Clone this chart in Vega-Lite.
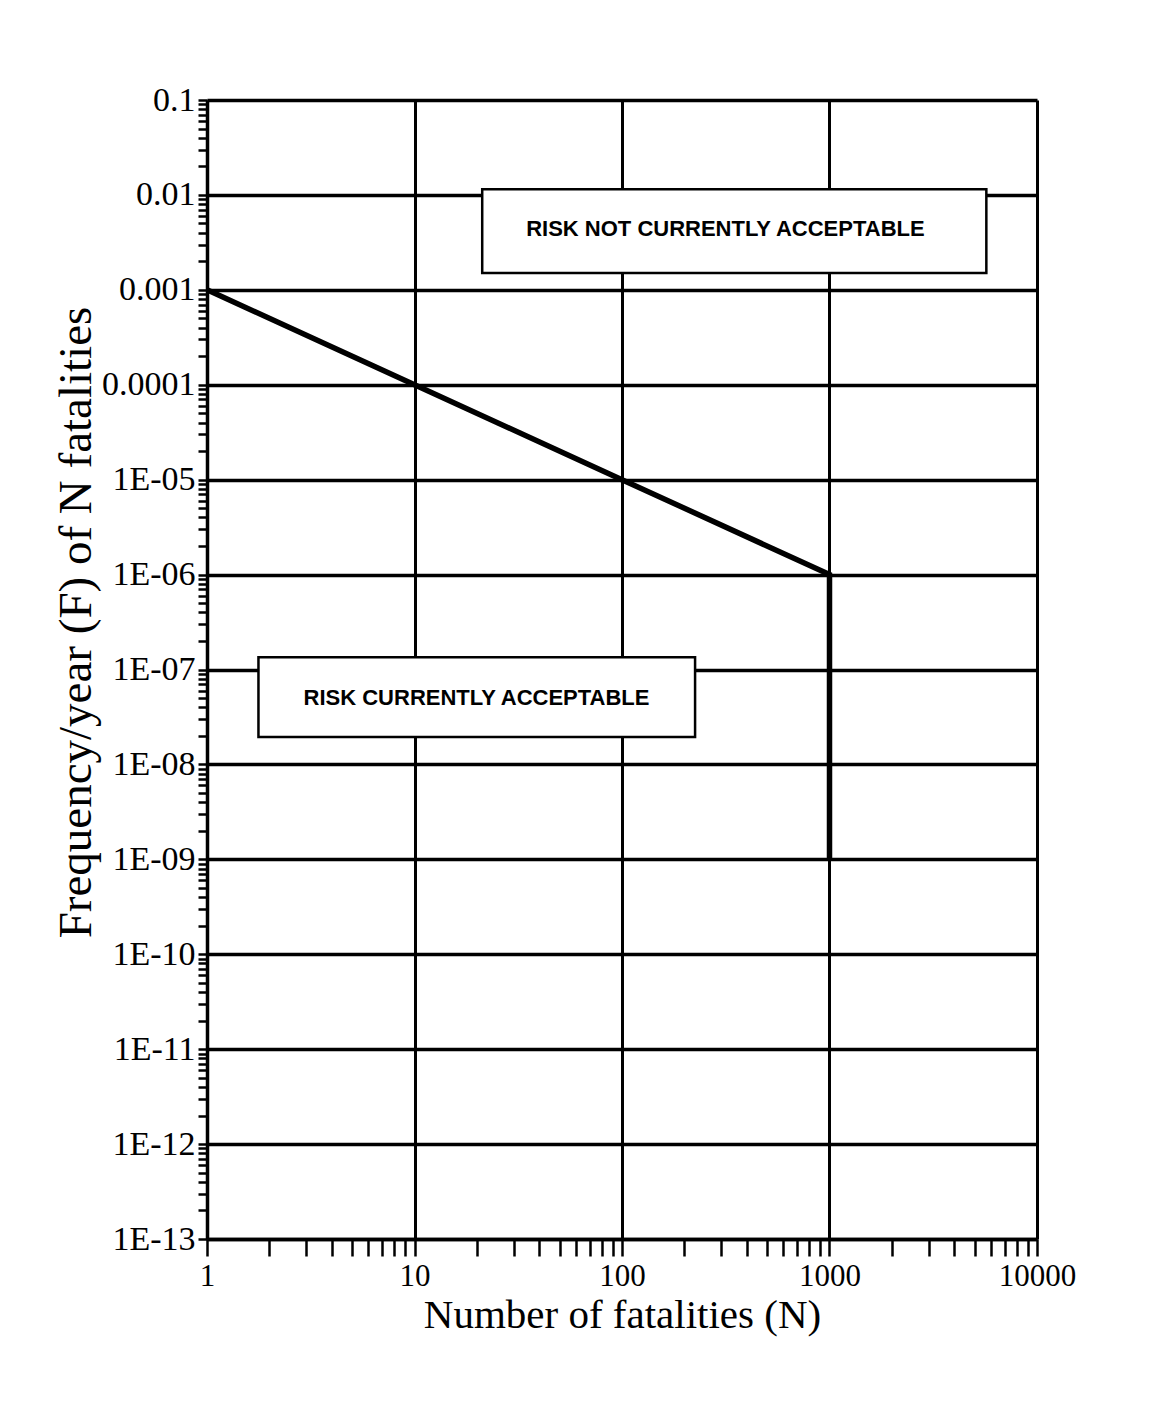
{
  "$schema": "https://vega.github.io/schema/vega-lite/v6.json",
  "width": 830,
  "height": 1139,
  "autosize": {"type": "none"},
  "padding": {"left": 207, "top": 100, "right": 113, "bottom": 170},
  "background": "white",
  "config": {
    "view": {"stroke": null},
    "axis": {
      "domainColor": "black",
      "domainWidth": 3.5,
      "tickColor": "black",
      "gridColor": "black",
      "labelColor": "black",
      "titleColor": "black",
      "labelFont": "Liberation Serif",
      "titleFont": "Liberation Serif",
      "titleFontWeight": "normal"
    }
  },
  "datasets": {
    "curve": [
      {"N": 1, "F": 0.001, "i": 0},
      {"N": 10, "F": 0.0001, "i": 1},
      {"N": 100, "F": 0.00001, "i": 2},
      {"N": 1000, "F": 0.000001, "i": 3},
      {"N": 1000, "F": 1e-9, "i": 4}
    ],
    "boxes": [
      {"x1": 21.2, "x2": 5700, "y1": 0.0015, "y2": 0.0115, "xc": 315, "yc": 0.00438, "label": "RISK NOT CURRENTLY ACCEPTABLE"},
      {"x1": 1.77, "x2": 225, "y1": 1.94e-8, "y2": 1.35e-7, "xc": 19.9, "yc": 5.0e-8, "label": "RISK CURRENTLY ACCEPTABLE"}
    ]
  },
  "layer": [
    {
      "data": {"name": "curve"},
      "mark": {"type": "line", "color": "black", "strokeWidth": 5.5, "strokeCap": "butt"},
      "encoding": {
        "x": {
          "field": "N", "type": "quantitative",
          "scale": {"type": "log", "domain": [1, 10000], "nice": false},
          "axis": {
            "title": "Number of fatalities (N)",
            "titleFontSize": 41,
            "titleX": 415,
            "titleY": 76,
            "titleBaseline": "middle",
            "labelFontSize": 31,
            "labelPadding": 5,
            "labelFlush": false,
            "labelOverlap": false,
            "tickSize": 17,
            "tickWidth": 2.5,
            "gridWidth": 3,
            "gridOpacity": {"condition": {"test": "abs(log(datum.value)/LN10 - round(log(datum.value)/LN10)) < 1e-6", "value": 1}, "value": 0},
            "values": [1,2,3,4,5,6,7,8,9,10,20,30,40,50,60,70,80,90,100,200,300,400,500,600,700,800,900,1000,2000,3000,4000,5000,6000,7000,8000,9000,10000],
            "labelExpr": "abs(log(datum.value)/LN10 - round(log(datum.value)/LN10)) < 1e-6 ? format(datum.value, 'd') : ''"
          }
        },
        "y": {
          "field": "F", "type": "quantitative",
          "scale": {"type": "log", "domain": [1e-13, 0.1], "nice": false},
          "axis": {
            "title": "Frequency/year (F) of N fatalities",
            "titleFontSize": 47,
            "titleX": -131,
            "titleY": 522,
            "titleAngle": 270,
            "titleAlign": "center",
            "titleBaseline": "middle",
            "labelFontSize": 34,
            "labelPadding": 3,
            "labelFlush": false,
            "labelOverlap": false,
            "tickSize": 9,
            "tickWidth": 2.5,
            "gridWidth": 3.5,
            "gridOpacity": {"condition": {"test": "abs(log(datum.value)/LN10 - round(log(datum.value)/LN10)) < 1e-6", "value": 1}, "value": 0},
            "values": [1e-13,2e-13,3e-13,4e-13,5e-13,6e-13,7e-13,8e-13,9e-13,1e-12,2e-12,3e-12,4e-12,5e-12,6e-12,7e-12,8e-12,9e-12,1e-11,2e-11,3e-11,4e-11,5e-11,6e-11,7e-11,8e-11,9e-11,1e-10,2e-10,3e-10,4e-10,5e-10,6e-10,7e-10,8e-10,9e-10,1e-9,2e-9,3e-9,4e-9,5e-9,6e-9,7e-9,8e-9,9e-9,1e-8,2e-8,3e-8,4e-8,5e-8,6e-8,7e-8,8e-8,9e-8,1e-7,2e-7,3e-7,4e-7,5e-7,6e-7,7e-7,8e-7,9e-7,1e-6,2e-6,3e-6,4e-6,5e-6,6e-6,7e-6,8e-6,9e-6,1e-5,2e-5,3e-5,4e-5,5e-5,6e-5,7e-5,8e-5,9e-5,1e-4,2e-4,3e-4,4e-4,5e-4,6e-4,7e-4,8e-4,9e-4,1e-3,2e-3,3e-3,4e-3,5e-3,6e-3,7e-3,8e-3,9e-3,1e-2,2e-2,3e-2,4e-2,5e-2,6e-2,7e-2,8e-2,9e-2,1e-1],
            "labelExpr": "abs(log(datum.value)/LN10 - round(log(datum.value)/LN10)) < 1e-6 ? (round(log(datum.value)/LN10) >= -4 ? format(datum.value, '.' + (-round(log(datum.value)/LN10)) + 'f') : '1E-' + (round(log(datum.value)/LN10) > -10 ? '0' : '') + (-round(log(datum.value)/LN10))) : ''"
          }
        },
        "order": {"field": "i", "type": "quantitative"}
      }
    },
    {
      "data": {"name": "boxes"},
      "mark": {"type": "rect", "fill": "white", "stroke": "black", "strokeWidth": 2.5},
      "encoding": {
        "x": {"field": "x1", "type": "quantitative"},
        "x2": {"field": "x2"},
        "y": {"field": "y1", "type": "quantitative"},
        "y2": {"field": "y2"}
      }
    },
    {
      "data": {"name": "boxes"},
      "mark": {"type": "text", "font": "Liberation Sans", "fontSize": 22, "fontWeight": "bold", "color": "black", "align": "center", "baseline": "middle"},
      "encoding": {
        "x": {"field": "xc", "type": "quantitative"},
        "y": {"field": "yc", "type": "quantitative"},
        "text": {"field": "label"}
      }
    }
  ]
}
